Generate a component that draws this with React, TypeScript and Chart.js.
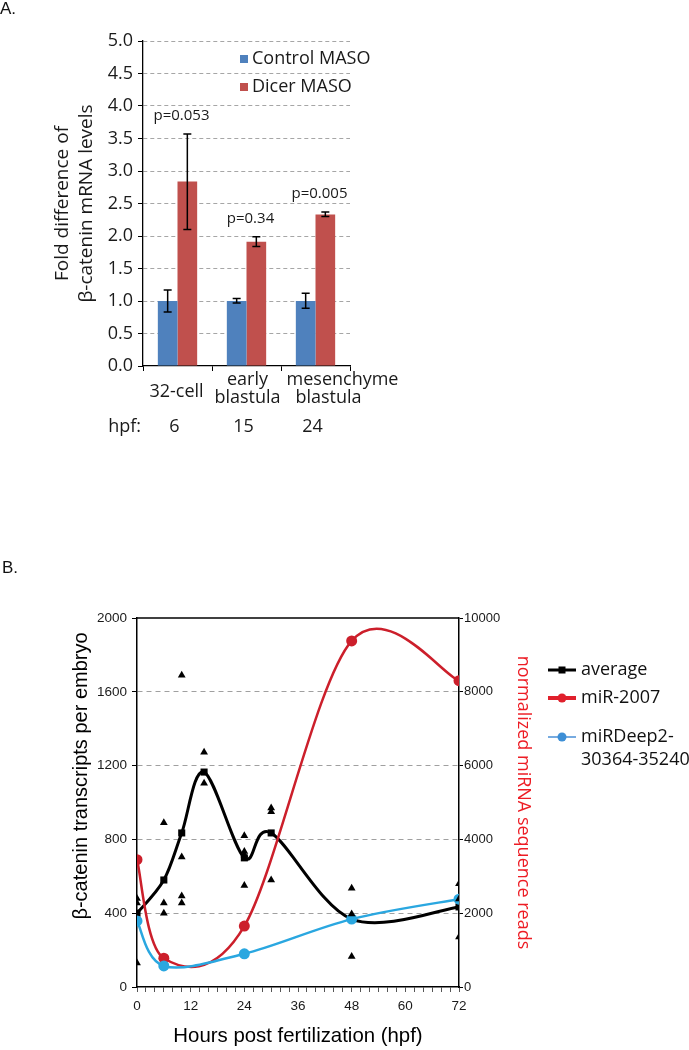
import React, { useEffect, useRef } from "react";
import { Chart, registerables } from "chart.js";
Chart.register(...registerables);

// ---------- Panel A data ----------
const stageCategories = ["32-cell", "early blastula", "mesenchyme blastula"];
const stageLines = [["32-cell"], ["early", "blastula"], ["mesenchyme", "blastula"]];
const hpfLabels = ["6", "15", "24"];
const controlValues = [1.0, 1.0, 1.0];
const controlErrLow = [0.83, 0.97, 0.89];
const controlErrHigh = [1.17, 1.04, 1.12];
const dicerValues = [2.84, 1.91, 2.33];
const dicerErrLow = [2.1, 1.84, 2.3];
const dicerErrHigh = [3.57, 1.99, 2.37];
const pValueLabels = ["p=0.053", "p=0.34", "p=0.005"];

// ---------- Panel B data ----------
const avgHours = [0, 6, 10, 15, 24, 30, 48, 72];
const avgValues = [400, 580, 835, 1165, 700, 835, 368, 434];
const replicateHours = [0, 0, 0, 6, 6, 6, 10, 10, 10, 10, 15, 15, 24, 24, 24, 24, 30, 30, 30, 48, 48, 48, 72, 72, 72];
const replicateValues = [480, 455, 130, 890, 455, 400, 1690, 705, 493, 455, 1273, 1105, 820, 735, 715, 550, 970, 950, 580, 535, 395, 165, 560, 477, 271];
const mirHours = [0, 6, 24, 48, 72];
const mir2007Values = [3450, 780, 1650, 9380, 8300];
const mirDeep2Values = [1790, 570, 900, 1840, 2380];
const leftTitleB = "β-catenin transcripts per embryo";

const OPEN = "'Open Sans', 'DejaVu Sans', sans-serif";
const ARIAL = "'Liberation Sans', Arial, sans-serif";
const BLUE_A = "#4F81BD";
const RED_A = "#C0504D";
const RED_B = "#cc1f2b";
const BLUE_B = "#2aa7e0";

const pts = (xs: number[], ys: number[]) => xs.map((x, i) => ({ x, y: ys[i] }));

const panelAPlugin = {
  id: "panelA",
  afterDatasetsDraw(chart: any) {
    const ctx = chart.ctx;
    const y = chart.scales.y;
    const x = chart.scales.x;
    const area = chart.chartArea;
    ctx.save();
    // error bars
    const errs = [
      [controlErrLow, controlErrHigh],
      [dicerErrLow, dicerErrHigh],
    ];
    chart.data.datasets.forEach((_ds: any, di: number) => {
      const meta = chart.getDatasetMeta(di);
      meta.data.forEach((bar: any, i: number) => {
        const bx = bar.x;
        const yl = y.getPixelForValue(errs[di][0][i]);
        const yh = y.getPixelForValue(errs[di][1][i]);
        ctx.strokeStyle = "#000";
        ctx.lineWidth = 1.5;
        ctx.beginPath();
        ctx.moveTo(bx, yl);
        ctx.lineTo(bx, yh);
        ctx.moveTo(bx - 4, yl);
        ctx.lineTo(bx + 4, yl);
        ctx.moveTo(bx - 4, yh);
        ctx.lineTo(bx + 4, yh);
        ctx.stroke();
      });
    });
    // p-values
    ctx.fillStyle = "#1a1a1a";
    ctx.font = `15px ${OPEN}`;
    ctx.textAlign = "center";
    ctx.textBaseline = "middle";
    pValueLabels.forEach((p, i) => {
      const cx = x.getPixelForValue(i) + 4;
      ctx.fillText(p, cx, y.getPixelForValue(dicerErrHigh[i]) - 18);
    });
    // legend
    ctx.font = `18px ${OPEN}`;
    ctx.textAlign = "left";
    chart.data.datasets.forEach((ds: any, di: number) => {
      const ly = area.top + 18 + di * 28;
      const lx = area.left + 97;
      ctx.fillStyle = ds.backgroundColor;
      ctx.fillRect(lx, ly - 4, 8, 8);
      ctx.fillStyle = "#1a1a1a";
      ctx.fillText(ds.label, lx + 12, ly);
    });
    // category labels
    ctx.textAlign = "center";
    const labelShift = [[-1], [1, 1], [27, 13]];
    stageLines.forEach((lines, i) => {
      const cx = x.getPixelForValue(i);
      if (lines.length === 1) {
        ctx.fillText(lines[0], cx + labelShift[i][0], area.bottom + 25.5);
      } else {
        lines.forEach((ln, k) => {
          ctx.fillText(ln, cx + labelShift[i][k], area.bottom + 13.5 + k * 18.5);
        });
      }
    });
    // hpf row
    ctx.textAlign = "right";
    ctx.fillText("hpf:", area.left - 2, area.bottom + 60.5);
    ctx.textAlign = "center";
    hpfLabels.forEach((h, i) => {
      ctx.fillText(h, x.getPixelForValue(i) - 3, area.bottom + 60.5);
    });
    ctx.restore();
  },
};

// Excel-style smoothing: Catmull-Rom tangents (neighbour difference / 6)
const excelSmoothPlugin = {
  id: "excelSmooth",
  beforeDatasetsDraw(chart: any) {
    chart.data.datasets.forEach((ds: any, di: number) => {
      if (ds.showLine === false) return;
      const meta = chart.getDatasetMeta(di);
      const els = meta.data;
      for (let i = 0; i < els.length; i++) {
        const p = els[i];
        const prev = els[Math.max(i - 1, 0)];
        const next = els[Math.min(i + 1, els.length - 1)];
        const dx = (next.x - prev.x) / 6;
        const dy = (next.y - prev.y) / 6;
        p.cp1x = p.x - dx;
        p.cp1y = p.y - dy;
        p.cp2x = p.x + dx;
        p.cp2y = p.y + dy;
      }
      if (meta.dataset) {
        meta.dataset._pointsUpdated = true;
        meta.dataset._path = undefined;
      }
    });
  },
};

const panelBPlugin = {
  id: "panelB",
  afterDraw(chart: any) {
    const ctx = chart.ctx;
    const area = chart.chartArea;
    ctx.save();
    // top border
    ctx.strokeStyle = "#000";
    ctx.lineWidth = 1.5;
    ctx.beginPath();
    ctx.moveTo(area.left, area.top);
    ctx.lineTo(area.right, area.top);
    ctx.stroke();
    // left axis title
    ctx.save();
    ctx.translate(area.left - 56, area.top + 158);
    ctx.rotate(-Math.PI / 2);
    ctx.font = `20px ${ARIAL}`;
    ctx.fillStyle = "#000";
    ctx.textAlign = "center";
    ctx.textBaseline = "middle";
    ctx.fillText(leftTitleB, 0, 0);
    ctx.restore();
    // legend
    const lx0 = 548;
    const lx1 = 576;
    const mx = (lx0 + lx1) / 2;
    const items = [
      { text: ["average"], y: 130, color: "#000", width: 3, marker: "rect", mcolor: "#000" },
      { text: ["miR-2007"], y: 158, color: "#e0202c", width: 4, marker: "circle", mcolor: "#e0202c" },
      { text: ["miRDeep2-", "30364-35240"], y: 197, color: "#4a8fd6", width: 1.5, marker: "circle", mcolor: "#3d8fd6" },
    ];
    ctx.font = `18px ${OPEN}`;
    ctx.textAlign = "left";
    ctx.textBaseline = "middle";
    items.forEach((it) => {
      ctx.strokeStyle = it.color;
      ctx.lineWidth = it.width;
      ctx.beginPath();
      ctx.moveTo(lx0, it.y);
      ctx.lineTo(lx1, it.y);
      ctx.stroke();
      ctx.fillStyle = it.mcolor;
      if (it.marker === "rect") {
        ctx.fillRect(mx - 3.5, it.y - 3.5, 7, 7);
      } else {
        ctx.beginPath();
        ctx.arc(mx, it.y, 4.5, 0, Math.PI * 2);
        ctx.fill();
      }
      ctx.fillStyle = "#111";
      it.text.forEach((t, k) => ctx.fillText(t, lx1 + 5, it.y + k * 23));
    });
    ctx.restore();
  },
};

export default function App() {
  const refA = useRef<HTMLCanvasElement>(null);
  const refB = useRef<HTMLCanvasElement>(null);

  useEffect(() => {
    const chartA = new Chart(refA.current as HTMLCanvasElement, {
      type: "bar",
      data: {
        labels: stageCategories,
        datasets: [
          { label: "Control MASO", data: controlValues, backgroundColor: BLUE_A, categoryPercentage: 0.57, barPercentage: 1.0 },
          { label: "Dicer MASO", data: dicerValues, backgroundColor: RED_A, categoryPercentage: 0.57, barPercentage: 1.0 },
        ],
      } as any,
      options: {
        responsive: false,
        animation: false,
        devicePixelRatio: 1,
        layout: { padding: { top: 41, left: 50, right: 339, bottom: 0 } },
        plugins: { legend: { display: false }, tooltip: { enabled: false } },
        scales: {
          x: {
            type: "category",
            offset: true,
            ticks: { display: false },
            grid: { display: true, drawOnChartArea: false, offset: true, color: "#000", tickColor: "#000", tickLength: 5 },
            border: { display: true, color: "#000", width: 1.3 },
            afterFit: (s: any) => { s.height = 84; },
          },
          y: {
            min: 0,
            max: 5,
            ticks: {
              stepSize: 0.5,
              padding: 5,
              color: "#1a1a1a",
              font: { family: OPEN, size: 18 },
              callback: (v: any) => Number(v).toFixed(1),
            },
            grid: {
              color: (c: any) => (c.tick && c.tick.value === 0 ? "rgba(0,0,0,0)" : "#a6a6a6"),
              tickColor: "#000",
              tickLength: 5,
              tickBorderDash: [],
            },
            border: { display: true, color: "#000", width: 1.3, dash: [4, 3] },
            title: {
              display: true,
              text: ["Fold difference of", "β-catenin mRNA levels"],
              color: "#1a1a1a",
              font: { family: OPEN, size: 19, lineHeight: 1.3 },
              padding: 0,
            },
            afterFit: (s: any) => { s.width = 93; },
          },
        },
      } as any,
      plugins: [panelAPlugin],
    });

    const chartB = new Chart(refB.current as HTMLCanvasElement, {
      type: "line",
      data: {
        datasets: [
          {
            label: "replicates",
            data: pts(replicateHours, replicateValues),
            showLine: false,
            pointStyle: "triangle",
            pointRadius: 4.5,
            backgroundColor: "#000",
            borderColor: "#000",
            borderWidth: 0,
            yAxisID: "y",
            order: 0,
          },
          {
            label: "miRDeep2-30364-35240",
            data: pts(mirHours, mirDeep2Values),
            borderColor: BLUE_B,
            backgroundColor: BLUE_B,
            borderWidth: 2.5,
            pointRadius: 5.5,
            pointBorderWidth: 0,
            tension: 0.4,
            yAxisID: "y2",
            order: 1,
          },
          {
            label: "miR-2007",
            data: pts(mirHours, mir2007Values),
            borderColor: RED_B,
            backgroundColor: RED_B,
            borderWidth: 2.5,
            pointRadius: 5.5,
            pointBorderWidth: 0,
            tension: 0.4,
            yAxisID: "y2",
            order: 2,
          },
          {
            label: "average",
            data: pts(avgHours, avgValues),
            borderColor: "#000",
            backgroundColor: "#000",
            borderWidth: 3,
            pointStyle: "rect",
            pointRadius: 5,
            pointBorderWidth: 0,
            tension: 0.4,
            yAxisID: "y",
            order: 3,
          },
        ],
      } as any,
      options: {
        responsive: false,
        animation: false,
        devicePixelRatio: 1,
        layout: { padding: { top: 78, left: 69, right: 155, bottom: 1 } },
        plugins: { legend: { display: false }, tooltip: { enabled: false } },
        scales: {
          x: {
            type: "linear",
            position: "bottom",
            min: 0,
            max: 72,
            ticks: {
              stepSize: 2,
              autoSkip: false,
              maxRotation: 0,
              padding: 6,
              color: "#1a1a1a",
              font: { family: ARIAL, size: 13.5 },
              callback: (v: any) => (Number(v) % 12 === 0 ? String(v) : ""),
            },
            grid: { drawOnChartArea: false, color: "#000", tickColor: "#555", tickLength: 5 },
            border: { display: true, color: "#000", width: 1.5 },
            title: {
              display: true,
              text: "Hours post fertilization (hpf)",
              color: "#000",
              font: { family: ARIAL, size: 20.4, lineHeight: 1.2 },
              padding: 0,
            },
            afterFit: (s: any) => { s.height = 62; },
          },
          y: {
            type: "linear",
            position: "left",
            min: 0,
            max: 2000,
            ticks: {
              stepSize: 400,
              padding: 5,
              color: "#1a1a1a",
              font: { family: ARIAL, size: 13.5 },
              callback: (v: any) => String(v),
            },
            grid: {
              color: (c: any) => (c.tick && (c.tick.value === 0 || c.tick.value === 2000) ? "rgba(0,0,0,0)" : "#a0a0a0"),
              tickColor: "#000",
              tickLength: 5,
              tickBorderDash: [],
            },
            border: { display: true, color: "#000", width: 1.5, dash: [5, 4] },
            afterFit: (s: any) => { s.width = 68; },
          },
          y2: {
            type: "linear",
            position: "right",
            min: 0,
            max: 10000,
            ticks: {
              stepSize: 2000,
              padding: 1,
              color: "#1a1a1a",
              font: { family: ARIAL, size: 13 },
              callback: (v: any) => String(v),
            },
            grid: { drawOnChartArea: false, tickColor: "#000", tickLength: 4 },
            border: { display: true, color: "#000", width: 1.5 },
            title: {
              display: true,
              text: "normalized miRNA sequence reads",
              color: "#ed1c24",
              font: { family: OPEN, size: 18, lineHeight: 1.2 },
              padding: 0,
            },
            afterFit: (s: any) => { s.width = 75; },
          },
        },
      } as any,
      plugins: [excelSmoothPlugin, panelBPlugin],
    });

    return () => {
      chartA.destroy();
      chartB.destroy();
    };
  }, []);

  return (
    <div style={{ position: "absolute", left: 0, top: 0, width: 689, height: 1050, background: "#fff", overflow: "hidden" }}>
      <canvas ref={refA} width={689} height={450} style={{ position: "absolute", left: 0, top: 0, width: 689, height: 450 }} />
      <canvas ref={refB} width={689} height={510} style={{ position: "absolute", left: 0, top: 540, width: 689, height: 510 }} />
      <div style={{ position: "absolute", left: 0, top: 0, fontFamily: ARIAL, fontSize: 17, lineHeight: "17px", color: "#111" }}>A.</div>
      <div style={{ position: "absolute", left: 2, top: 559, fontFamily: ARIAL, fontSize: 17, lineHeight: "17px", color: "#111" }}>B.</div>
    </div>
  );
}
